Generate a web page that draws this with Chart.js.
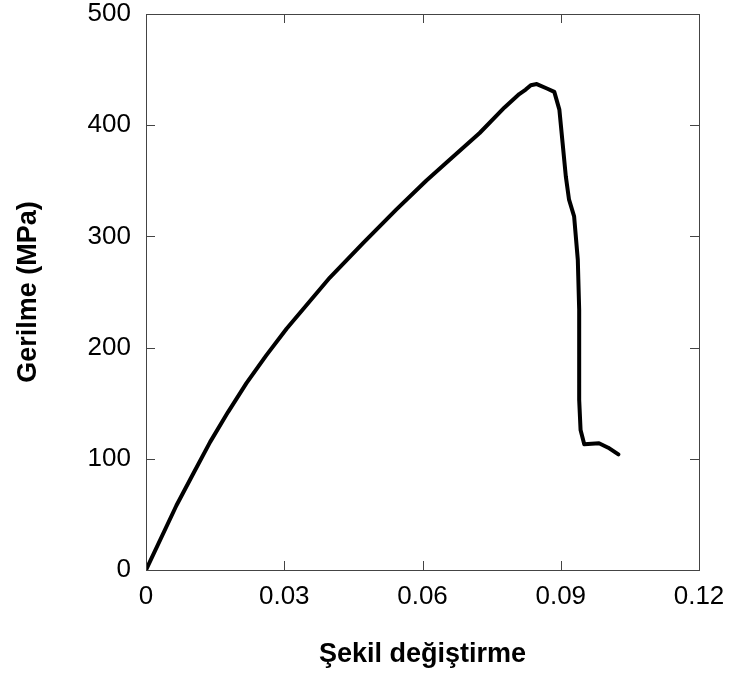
<!DOCTYPE html>
<html>
<head>
<meta charset="utf-8">
<script src="https://cdn.jsdelivr.net/npm/chart.js@4"></script>
<style>
  html, body { margin: 0; padding: 0; background: #fff; }
  #wrap { width: 731px; height: 678px; }
</style>
</head>
<body>
<div id="wrap"><canvas id="chart" width="731" height="678"></canvas></div>
<script>
const strain = [0, 0.0066, 0.0103, 0.0139, 0.0178, 0.0218, 0.0261, 0.0305, 0.0399,
  0.0471, 0.0543, 0.0608, 0.0651, 0.0724, 0.0778, 0.0810, 0.0824, 0.0835, 0.0848,
  0.0870, 0.0886, 0.0897, 0.0904, 0.0911, 0.0918, 0.0929, 0.0937, 0.0940, 0.0940, 0.0943,
  0.0951, 0.0983, 0.1003, 0.1025];
const stress = [0, 58, 87, 115, 142, 168, 193, 217, 263,
  294, 324, 350, 366, 393, 416, 428, 432, 436, 437,
  433, 430, 414, 384, 354, 333, 318, 279, 234, 153, 126,
  113, 114, 110, 104];

const xTicks = [0, 0.03, 0.06, 0.09, 0.12];
const yTicks = [0, 100, 200, 300, 400, 500];

const FONT = "'Liberation Sans', Arial, Helvetica, sans-serif";
const FRAME = "#444";

const points = strain.map((x, i) => ({ x, y: stress[i] }));

// frame + inward tick marks on all four sides
const framePlugin = {
  id: "frame",
  afterDraw(chart) {
    const { ctx, chartArea: a, scales } = chart;
    const len = 9;
    ctx.save();
    ctx.strokeStyle = FRAME;
    ctx.lineWidth = 1;
    ctx.strokeRect(a.left + 0.5, a.top + 0.5, a.right - a.left, a.bottom - a.top);
    ctx.beginPath();
    xTicks.forEach((v) => {
      const px = Math.round(scales.x.getPixelForValue(v)) + 0.5;
      ctx.moveTo(px, a.bottom);
      ctx.lineTo(px, a.bottom - len);
      ctx.moveTo(px, a.top);
      ctx.lineTo(px, a.top + len);
    });
    yTicks.forEach((v) => {
      const py = Math.round(scales.y.getPixelForValue(v)) + 0.5;
      ctx.moveTo(a.left, py);
      ctx.lineTo(a.left + len, py);
      ctx.moveTo(a.right, py);
      ctx.lineTo(a.right - len, py);
    });
    ctx.stroke();
    ctx.restore();
  },
};

const ctx = document.getElementById("chart").getContext("2d");
const chart = new Chart(ctx, {
  type: "line",
  data: {
    datasets: [
      {
        data: points,
        borderColor: "#000",
        borderWidth: 4,
        borderJoinStyle: "round",
        borderCapStyle: "round",
        pointRadius: 0,
        tension: 0,
        fill: false,
      },
    ],
  },
  options: {
    responsive: false,
    animation: false,
    layout: { padding: { left: 0, right: 32, top: 14, bottom: 0 } },
    plugins: { legend: { display: false }, tooltip: { enabled: false } },
    scales: {
      x: {
        type: "linear",
        min: 0,
        max: 0.12,
        afterBuildTicks: (s) => { s.ticks = xTicks.map((v) => ({ value: v })); },
        afterFit: (s) => { s.height = 108; s.paddingLeft = 0; s.paddingRight = 0; },
        grid: { display: false, drawTicks: false },
        border: { display: false },
        ticks: {
          padding: 11,
          color: "#000",
          maxRotation: 0,
          font: { family: FONT, size: 26 },
          callback: (v) => String(v),
        },
        title: {
          display: true,
          text: "Şekil değiştirme",
          color: "#000",
          font: { family: FONT, size: 27, weight: "bold" },
          padding: { top: 7, bottom: 7 },
        },
      },
      y: {
        type: "linear",
        min: 0,
        max: 500,
        afterBuildTicks: (s) => { s.ticks = yTicks.map((v) => ({ value: v })); },
        afterFit: (s) => { s.width = 146; s.paddingTop = 0; s.paddingBottom = 0; },
        grid: { display: false, drawTicks: false },
        border: { display: false },
        ticks: {
          padding: 15,
          color: "#000",
          font: { family: FONT, size: 26 },
          callback: (v) => String(v),
        },
        title: {
          display: true,
          text: "Gerilme (MPa)",
          color: "#000",
          font: { family: FONT, size: 27, weight: "bold" },
          padding: { top: 12, bottom: 12 },
        },
      },
    },
  },
  plugins: [framePlugin],
});
</script>
</body>
</html>
